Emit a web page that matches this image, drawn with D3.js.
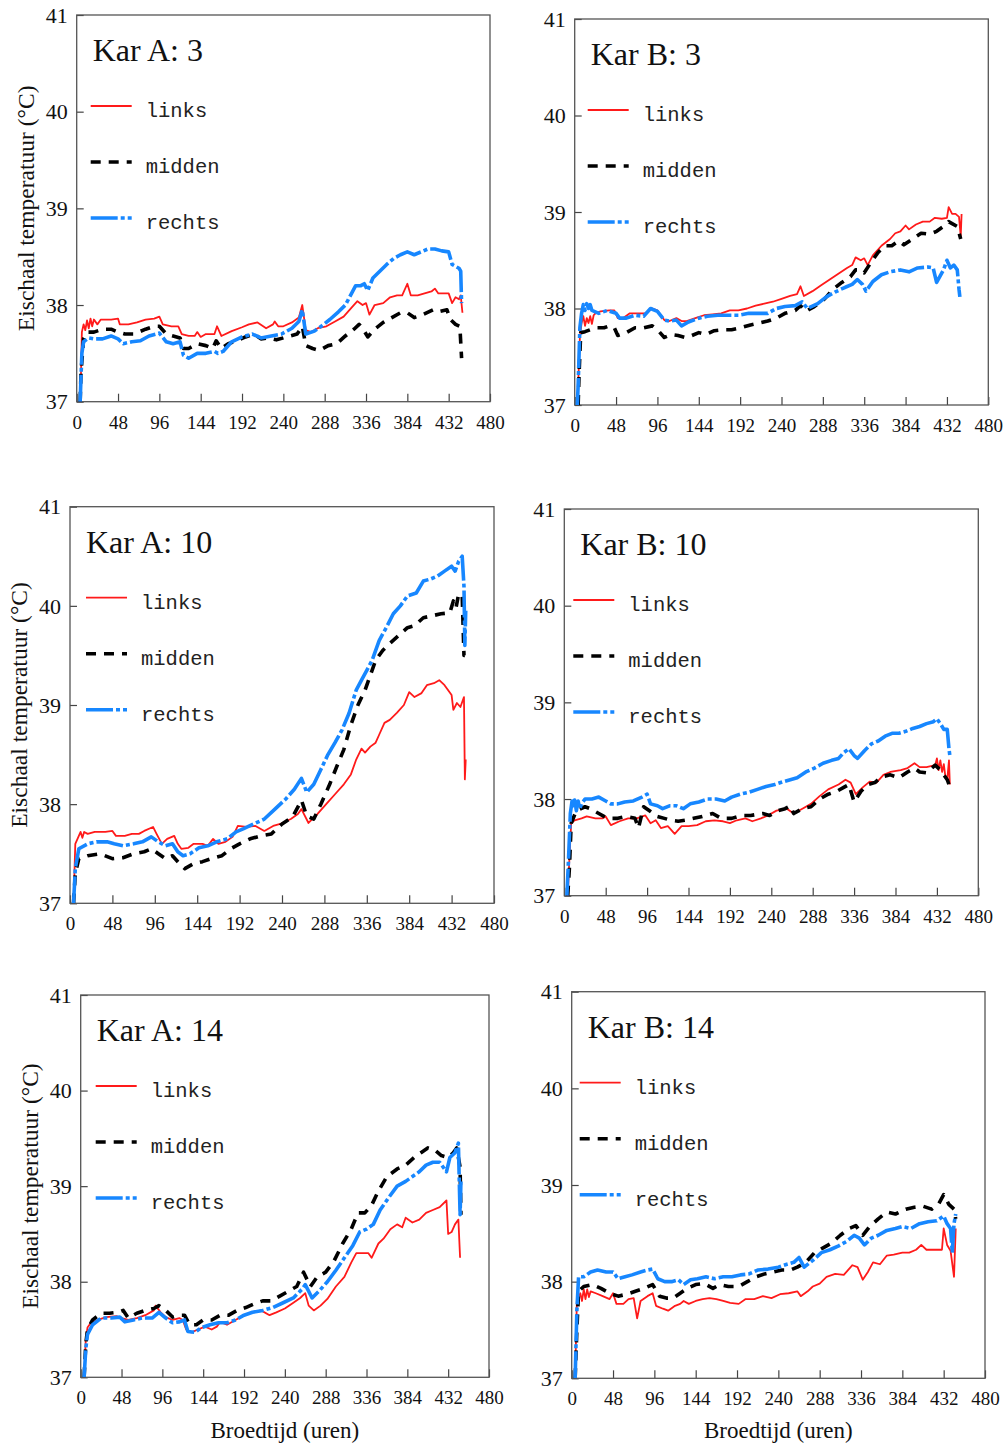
<!DOCTYPE html>
<html>
<head>
<meta charset="utf-8">
<script src="https://cdn.jsdelivr.net/npm/d3@7"></script>
<style>
  body { margin: 0; background: #fff; }
  svg { display: block; }
</style>
</head>
<body>
<svg id="chart" width="1007" height="1446"></svg>
<script>
// x ticks (hours) and y ticks (°C)
const xTicks = [0, 48, 96, 144, 192, 240, 288, 336, 384, 432, 480];
const yTicks = [37, 38, 39, 40, 41];
const seriesNames = ["links", "midden", "rechts"];

// ---- Kar A: 3 ----
const linksA3 = [[4,37.0],[5,37.3],[6,37.72],[8,37.8],[10,37.74],[12,37.84],[14,37.76],[16,37.86],[18,37.78],[20,37.85],[24,37.8],[28,37.85],[40,37.85],[48,37.86],[50,37.8],[60,37.8],[70,37.82],[80,37.85],[90,37.86],[96,37.88],[100,37.8],[110,37.78],[118,37.78],[122,37.7],[130,37.68],[137,37.68],[140,37.72],[144,37.67],[150,37.7],[160,37.7],[163,37.78],[168,37.68],[180,37.73],[192,37.77],[200,37.8],[210,37.82],[220,37.76],[228,37.8],[230,37.83],[234,37.78],[240,37.78],[250,37.82],[258,37.87],[262,38.0],[266,37.74],[272,37.72],[280,37.76],[290,37.78],[300,37.83],[310,37.88],[320,37.98],[326,38.04],[332,38.0],[336,38.02],[340,37.9],[346,38.0],[356,38.02],[364,38.08],[372,38.1],[378,38.1],[384,38.22],[388,38.1],[396,38.1],[404,38.12],[412,38.14],[416,38.17],[420,38.12],[432,38.12],[436,38.02],[440,38.08],[444,38.06],[446,38.1],[448,37.92]];
const middenA3 = [[4,37.0],[5,37.3],[8,37.65],[12,37.72],[20,37.72],[30,37.75],[40,37.75],[48,37.72],[56,37.7],[66,37.7],[72,37.72],[80,37.75],[90,37.78],[96,37.78],[104,37.7],[112,37.68],[120,37.66],[124,37.55],[130,37.55],[140,37.6],[150,37.58],[158,37.55],[162,37.63],[168,37.55],[176,37.6],[186,37.63],[196,37.67],[206,37.7],[214,37.65],[222,37.66],[232,37.64],[244,37.67],[256,37.7],[262,37.78],[266,37.58],[274,37.55],[282,37.53],[292,37.58],[302,37.6],[312,37.68],[322,37.75],[328,37.8],[332,37.76],[338,37.67],[346,37.75],[356,37.82],[366,37.87],[376,37.92],[384,37.92],[392,37.87],[402,37.9],[414,37.95],[420,37.93],[430,37.95],[434,37.85],[440,37.8],[445,37.78],[447,37.45]];
const rechtsA3 = [[4,37.0],[6,37.5],[8,37.62],[14,37.66],[20,37.65],[30,37.65],[40,37.68],[48,37.65],[54,37.6],[64,37.62],[74,37.63],[84,37.68],[96,37.71],[104,37.62],[112,37.6],[120,37.62],[124,37.48],[130,37.45],[140,37.5],[150,37.5],[160,37.52],[164,37.5],[170,37.52],[180,37.62],[192,37.67],[204,37.7],[214,37.66],[226,37.68],[238,37.7],[250,37.76],[258,37.83],[262,37.95],[266,37.7],[276,37.73],[284,37.78],[294,37.85],[304,37.93],[312,38.0],[318,38.1],[324,38.2],[330,38.2],[334,38.22],[338,38.15],[344,38.28],[352,38.35],[360,38.42],[368,38.48],[376,38.52],[384,38.55],[392,38.52],[400,38.55],[408,38.58],[416,38.58],[424,38.56],[432,38.55],[436,38.42],[440,38.4],[444,38.38],[446,38.35],[447,38.02]];

// ---- Kar B: 3 ----
const linksB3 = [[4,37.2],[6,37.7],[8,37.85],[10,37.92],[12,37.82],[14,37.9],[16,37.85],[18,37.92],[20,37.84],[22,37.93],[24,37.95],[30,37.97],[40,37.98],[46,37.98],[50,37.9],[56,37.9],[64,37.95],[74,37.95],[82,37.95],[90,38.0],[96,37.98],[104,37.88],[110,37.87],[118,37.9],[124,37.87],[130,37.87],[140,37.9],[150,37.93],[160,37.94],[170,37.95],[180,37.98],[190,37.98],[200,38.0],[210,38.03],[220,38.05],[230,38.07],[240,38.1],[250,38.13],[258,38.15],[262,38.23],[266,38.13],[276,38.18],[286,38.24],[296,38.3],[306,38.36],[316,38.42],[322,38.45],[326,38.53],[332,38.5],[336,38.52],[340,38.45],[346,38.55],[356,38.65],[366,38.72],[372,38.78],[378,38.8],[384,38.86],[388,38.82],[396,38.87],[404,38.9],[412,38.9],[418,38.94],[426,38.93],[432,38.94],[434,39.05],[438,38.98],[442,38.98],[446,38.95],[448,38.75],[449,38.98]];
const middenB3 = [[4,37.0],[5,37.3],[7,37.75],[12,37.76],[24,37.8],[34,37.8],[40,37.82],[46,37.8],[50,37.72],[60,37.75],[70,37.8],[80,37.8],[90,37.82],[98,37.76],[104,37.7],[112,37.73],[120,37.72],[128,37.7],[136,37.72],[144,37.75],[152,37.73],[162,37.77],[172,37.78],[182,37.78],[192,37.8],[204,37.83],[214,37.85],[224,37.87],[234,37.9],[244,37.95],[256,37.98],[262,38.03],[268,37.97],[278,38.02],[290,38.1],[300,38.2],[310,38.27],[320,38.33],[326,38.4],[332,38.4],[336,38.37],[344,38.48],[352,38.58],[360,38.65],[368,38.65],[376,38.7],[382,38.66],[392,38.72],[402,38.78],[412,38.77],[420,38.8],[428,38.85],[434,38.9],[438,38.88],[444,38.85],[448,38.72]];
const rechtsB3 = [[3,37.0],[4,37.2],[6,37.8],[8,37.95],[10,38.04],[12,37.98],[14,38.05],[16,38.0],[18,38.04],[20,37.98],[28,37.95],[38,37.98],[48,37.95],[52,37.9],[60,37.9],[70,37.93],[80,37.92],[88,38.0],[96,37.97],[104,37.88],[110,37.87],[118,37.88],[124,37.82],[132,37.86],[144,37.9],[154,37.92],[166,37.93],[178,37.93],[190,37.93],[202,37.95],[214,37.95],[224,37.95],[234,38.0],[244,38.02],[256,38.03],[264,38.07],[270,38.0],[282,38.05],[292,38.12],[302,38.17],[314,38.22],[322,38.25],[328,38.3],[334,38.25],[338,38.18],[346,38.28],[356,38.35],[366,38.38],[378,38.4],[388,38.38],[398,38.42],[410,38.43],[416,38.42],[420,38.27],[428,38.4],[432,38.5],[436,38.42],[440,38.45],[444,38.4],[446,38.2],[447,38.12]];

// ---- Kar A: 10 ----
const linksA10 = [[4,37.0],[5,37.3],[6,37.6],[10,37.68],[12,37.72],[14,37.66],[16,37.72],[20,37.7],[28,37.72],[40,37.72],[48,37.73],[52,37.68],[62,37.68],[70,37.7],[78,37.7],[84,37.73],[94,37.77],[98,37.7],[104,37.6],[110,37.65],[118,37.68],[122,37.6],[126,37.55],[134,37.56],[140,37.6],[150,37.6],[156,37.58],[162,37.65],[168,37.6],[176,37.62],[184,37.67],[190,37.78],[200,37.77],[210,37.78],[220,37.73],[230,37.78],[238,37.8],[250,37.85],[258,37.9],[262,37.95],[270,37.81],[280,37.9],[290,38.0],[300,38.1],[310,38.2],[318,38.3],[324,38.45],[330,38.56],[334,38.52],[340,38.58],[346,38.62],[350,38.7],[356,38.82],[362,38.85],[370,38.92],[378,39.0],[384,39.13],[390,39.08],[398,39.12],[404,39.2],[412,39.22],[418,39.25],[424,39.2],[432,39.1],[434,38.95],[438,39.02],[442,38.98],[446,39.08],[447,38.25],[448,38.45]];
const middenA10 = [[4,37.0],[6,37.3],[10,37.45],[20,37.48],[34,37.5],[48,37.45],[60,37.46],[72,37.5],[84,37.52],[92,37.55],[100,37.5],[108,37.45],[116,37.48],[124,37.4],[130,37.35],[140,37.4],[150,37.42],[160,37.45],[172,37.48],[182,37.55],[192,37.6],[204,37.65],[216,37.68],[228,37.7],[240,37.8],[252,37.87],[262,38.04],[268,37.88],[276,37.85],[284,38.0],[294,38.2],[302,38.38],[310,38.55],[318,38.8],[326,39.0],[334,39.15],[340,39.3],[346,39.45],[354,39.55],[362,39.62],[372,39.7],[382,39.78],[390,39.8],[400,39.88],[410,39.9],[420,39.92],[430,39.93],[434,40.05],[437,39.98],[440,40.12],[444,40.1],[446,39.5],[447,39.5]];
const rechtsA10 = [[4,37.0],[6,37.35],[10,37.55],[20,37.6],[30,37.62],[42,37.62],[50,37.6],[60,37.58],[72,37.6],[82,37.62],[92,37.67],[100,37.62],[108,37.58],[116,37.6],[122,37.52],[128,37.48],[136,37.5],[146,37.56],[156,37.58],[166,37.62],[178,37.65],[188,37.72],[196,37.75],[208,37.8],[220,37.85],[232,37.95],[244,38.05],[254,38.15],[262,38.26],[268,38.12],[276,38.2],[284,38.35],[292,38.5],[300,38.62],[308,38.75],[316,38.92],[324,39.15],[330,39.25],[336,39.35],[342,39.45],[350,39.65],[358,39.78],[366,39.92],[374,40.0],[382,40.1],[392,40.13],[400,40.25],[408,40.27],[416,40.3],[424,40.35],[432,40.4],[436,40.35],[440,40.45],[444,40.5],[446,40.2],[447,39.6],[448,39.95]];

// ---- Kar B: 10 ----
const linksB10 = [[4,37.0],[6,37.4],[8,37.75],[12,37.78],[20,37.8],[26,37.82],[36,37.8],[44,37.8],[48,37.82],[54,37.73],[64,37.77],[74,37.8],[84,37.8],[94,37.83],[100,37.75],[106,37.78],[112,37.7],[120,37.72],[128,37.64],[136,37.72],[144,37.72],[154,37.73],[164,37.77],[174,37.78],[184,37.77],[192,37.75],[200,37.78],[210,37.8],[218,37.77],[228,37.8],[236,37.83],[246,37.88],[258,37.9],[266,37.85],[276,37.9],[286,37.95],[296,38.03],[306,38.1],[318,38.15],[326,38.2],[332,38.17],[338,38.05],[346,38.12],[354,38.18],[362,38.17],[370,38.25],[378,38.28],[390,38.3],[398,38.32],[406,38.37],[412,38.33],[420,38.33],[430,38.35],[432,38.42],[434,38.3],[436,38.4],[438,38.28],[440,38.36],[442,38.22],[444,38.2],[446,38.4],[447,38.15]];
const middenB10 = [[4,37.0],[6,37.3],[8,37.75],[14,37.88],[24,37.92],[30,37.9],[40,37.85],[50,37.8],[62,37.8],[72,37.82],[82,37.8],[86,37.7],[92,37.92],[100,37.87],[108,37.82],[116,37.8],[124,37.78],[132,37.77],[140,37.78],[150,37.8],[160,37.82],[172,37.85],[182,37.8],[194,37.8],[206,37.83],[216,37.83],[230,37.85],[238,37.83],[248,37.88],[256,37.9],[262,37.93],[266,37.85],[276,37.9],[286,37.92],[296,38.0],[306,38.05],[316,38.08],[324,38.12],[330,38.15],[336,37.97],[344,38.08],[352,38.15],[360,38.17],[368,38.23],[378,38.25],[388,38.22],[398,38.28],[406,38.32],[412,38.28],[420,38.27],[430,38.35],[436,38.3],[440,38.25],[444,38.2],[446,38.15]];
const rechtsB10 = [[3,37.0],[5,37.4],[7,37.85],[9,37.98],[10,37.9],[12,37.99],[14,37.88],[16,37.98],[18,37.9],[20,37.95],[24,38.0],[32,38.0],[40,38.02],[48,37.98],[54,37.95],[62,37.95],[70,37.97],[80,37.98],[90,38.02],[96,38.05],[100,37.95],[108,37.93],[114,37.9],[122,37.93],[130,37.93],[138,37.9],[146,37.95],[156,37.97],[166,38.0],[176,38.0],[186,37.98],[194,38.02],[204,38.05],[214,38.07],[224,38.1],[234,38.13],[244,38.15],[254,38.18],[262,38.2],[270,38.22],[280,38.28],[290,38.32],[300,38.37],[310,38.4],[318,38.42],[324,38.48],[330,38.52],[336,38.45],[340,38.42],[348,38.5],[356,38.57],[364,38.6],[372,38.65],[380,38.68],[388,38.68],[396,38.7],[404,38.73],[412,38.75],[420,38.78],[428,38.8],[432,38.83],[436,38.78],[440,38.72],[444,38.72],[446,38.52],[447,38.45]];

// ---- Kar A: 14 ----
const linksA14 = [[4,37.0],[6,37.4],[8,37.52],[12,37.57],[20,37.6],[30,37.63],[42,37.64],[48,37.62],[56,37.6],[66,37.62],[76,37.65],[86,37.7],[88,37.75],[94,37.68],[100,37.63],[108,37.6],[116,37.62],[120,37.6],[124,37.5],[130,37.47],[138,37.5],[146,37.53],[154,37.5],[160,37.53],[164,37.58],[172,37.55],[182,37.6],[192,37.65],[202,37.68],[212,37.7],[222,37.65],[230,37.68],[240,37.72],[250,37.78],[258,37.83],[264,37.88],[268,37.75],[274,37.7],[282,37.75],[290,37.82],[300,37.95],[310,38.05],[318,38.2],[324,38.3],[332,38.3],[338,38.3],[342,38.25],[350,38.4],[356,38.45],[364,38.55],[372,38.6],[378,38.57],[382,38.67],[390,38.62],[398,38.65],[406,38.72],[414,38.75],[422,38.78],[430,38.85],[432,38.5],[436,38.52],[440,38.6],[444,38.65],[446,38.25]];
const middenA14 = [[4,37.0],[6,37.35],[8,37.5],[14,37.6],[24,37.67],[34,37.67],[44,37.68],[50,37.7],[56,37.62],[66,37.67],[76,37.7],[86,37.72],[92,37.75],[100,37.7],[108,37.63],[116,37.65],[122,37.65],[128,37.55],[136,37.55],[144,37.6],[154,37.6],[164,37.65],[174,37.65],[184,37.7],[194,37.73],[204,37.77],[214,37.8],[224,37.8],[234,37.85],[244,37.9],[254,37.95],[262,38.1],[270,37.95],[278,38.05],[288,38.1],[298,38.22],[308,38.4],[318,38.55],[326,38.72],[334,38.72],[342,38.8],[350,38.95],[360,39.1],[372,39.18],[382,39.22],[392,39.3],[400,39.35],[408,39.4],[416,39.38],[424,39.32],[432,39.3],[438,39.35],[442,39.4],[446,39.2],[447,38.7]];
const rechtsA14 = [[4,37.0],[6,37.3],[8,37.45],[14,37.55],[24,37.62],[36,37.62],[46,37.63],[52,37.58],[62,37.6],[72,37.62],[84,37.62],[92,37.68],[100,37.62],[108,37.57],[116,37.58],[122,37.6],[126,37.48],[134,37.47],[142,37.52],[152,37.55],[162,37.57],[172,37.57],[182,37.6],[192,37.65],[202,37.68],[214,37.7],[226,37.73],[238,37.78],[250,37.83],[260,37.92],[264,37.97],[272,37.83],[280,37.9],[290,38.0],[300,38.12],[310,38.25],[320,38.38],[328,38.52],[336,38.55],[344,38.6],[352,38.75],[362,38.88],[372,39.0],[382,39.05],[390,39.1],[398,39.15],[406,39.22],[414,39.25],[422,39.25],[430,39.15],[434,39.3],[440,39.35],[444,39.45],[446,38.7],[447,39.05]];

// ---- Kar B: 14 ----
const linksB14 = [[4,37.0],[5,37.4],[6,37.8],[10,37.88],[12,37.8],[14,37.92],[16,37.82],[18,37.92],[20,37.84],[22,37.9],[28,37.88],[36,37.85],[44,37.82],[48,37.88],[52,37.77],[60,37.77],[66,37.82],[72,37.83],[76,37.62],[80,37.8],[88,37.85],[94,37.88],[98,37.75],[106,37.72],[112,37.7],[120,37.75],[126,37.77],[130,37.8],[136,37.77],[144,37.8],[152,37.82],[160,37.83],[168,37.82],[176,37.8],[184,37.78],[194,37.77],[202,37.82],[212,37.82],[222,37.85],[232,37.83],[242,37.87],[252,37.88],[262,37.9],[266,37.85],[274,37.9],[280,37.95],[288,37.98],[296,38.05],[306,38.08],[316,38.07],[326,38.17],[332,38.15],[338,38.02],[344,38.1],[350,38.2],[358,38.18],[366,38.27],[374,38.28],[384,38.3],[392,38.3],[400,38.33],[406,38.38],[412,38.33],[422,38.33],[430,38.33],[432,38.55],[436,38.38],[440,38.32],[444,38.05],[446,38.55]];
const middenB14 = [[4,37.0],[6,37.5],[8,37.9],[14,37.95],[24,37.97],[34,37.93],[44,37.88],[54,37.85],[64,37.87],[74,37.9],[84,37.93],[94,37.97],[102,37.85],[110,37.83],[118,37.83],[126,37.88],[134,37.93],[144,37.97],[154,37.98],[164,37.93],[172,37.97],[182,37.95],[194,37.95],[204,38.0],[214,38.05],[224,38.08],[234,38.1],[244,38.12],[254,38.12],[262,38.15],[272,38.2],[282,38.3],[292,38.35],[302,38.4],[312,38.48],[322,38.55],[330,38.58],[338,38.48],[346,38.57],[356,38.65],[366,38.72],[376,38.7],[388,38.75],[398,38.77],[408,38.78],[418,38.75],[426,38.8],[432,38.9],[438,38.8],[444,38.75],[446,38.65]];
const rechtsB14 = [[4,37.0],[6,37.7],[8,38.05],[14,38.05],[22,38.1],[30,38.12],[40,38.1],[48,38.1],[54,38.03],[62,38.05],[70,38.07],[80,38.1],[88,38.12],[94,38.13],[100,38.03],[108,38.0],[116,38.0],[124,38.02],[130,37.97],[138,38.02],[146,38.03],[156,38.05],[166,38.03],[176,38.05],[186,38.05],[196,38.07],[206,38.08],[216,38.12],[228,38.13],[240,38.15],[250,38.18],[258,38.2],[264,38.25],[270,38.15],[280,38.22],[290,38.3],[300,38.33],[310,38.37],[320,38.42],[328,38.48],[334,38.45],[340,38.38],[348,38.45],[356,38.48],[366,38.53],[376,38.55],[384,38.57],[394,38.55],[404,38.6],[414,38.62],[424,38.63],[432,38.68],[436,38.6],[440,38.55],[442,38.3],[444,38.6],[446,38.7]];

// panel layout: [left, top, right, bottom] of each plot frame
const panels = [
  { title: "Kar A: 3",  box: [76.7, 15, 490, 401.7],    legX: 14, yLabel: true,  xLabel: false, data: [linksA3, middenA3, rechtsA3] },
  { title: "Kar B: 3",  box: [574.7, 19, 988.3, 405],   legX: 13, yLabel: false, xLabel: false, data: [linksB3, middenB3, rechtsB3] },
  { title: "Kar A: 10", box: [70, 506.7, 494, 903.3],   legX: 16, yLabel: true,  xLabel: false, data: [linksA10, middenA10, rechtsA10] },
  { title: "Kar B: 10", box: [564.3, 509, 978.3, 895.7], legX: 9, yLabel: false, xLabel: false, data: [linksB10, middenB10, rechtsB10] },
  { title: "Kar A: 14", box: [80.7, 995, 489, 1377.3],  legX: 15, yLabel: true,  xLabel: true,  data: [linksA14, middenA14, rechtsA14] },
  { title: "Kar B: 14", box: [571.7, 991.7, 985, 1378.3], legX: 8, yLabel: false, xLabel: true,  data: [linksB14, middenB14, rechtsB14] },
];

const styles = [
  { color: "#ff1a1a", width: 1.8, dash: null },
  { color: "#000000", width: 3.6, dash: "10,8" },
  { color: "#1787ff", width: 3.6, dash: "27,3,4,3" },
];

const serif = '"Liberation Serif", "Times New Roman", serif';
const mono = '"Liberation Mono", "Courier New", monospace';
const svg = d3.select("#chart");

panels.forEach((p, pi) => {
  const [x0, y0, x1, y1] = p.box;
  const x = d3.scaleLinear().domain([0, 480]).range([x0, x1]);
  const y = d3.scaleLinear().domain([37, 41]).range([y1, y0]);
  const g = svg.append("g");

  g.append("clipPath").attr("id", `clip${pi}`)
    .append("rect").attr("x", x0).attr("y", y0).attr("width", x1 - x0).attr("height", y1 - y0);

  // x axis with inward ticks
  const xAxis = g.append("g")
    .attr("transform", `translate(0,${y1})`)
    .call(d3.axisBottom(x).tickValues(xTicks).tickFormat(d3.format("d"))
      .tickSizeInner(-8).tickSizeOuter(0).tickPadding(12))
    .attr("font-family", serif);
  xAxis.select(".domain").remove();
  xAxis.selectAll("line").attr("stroke", "#444").attr("stroke-width", 1.2);
  xAxis.selectAll("text").attr("font-family", serif).attr("font-size", 19).attr("fill", "#111").attr("dy", "0.78em");

  // y axis with inward ticks
  const yAxis = g.append("g")
    .attr("transform", `translate(${x0},0)`)
    .call(d3.axisLeft(y).tickValues(yTicks).tickFormat(d3.format("d"))
      .tickSizeInner(-7).tickSizeOuter(0).tickPadding(9))
    .attr("font-family", serif);
  yAxis.select(".domain").remove();
  yAxis.selectAll("line").attr("stroke", "#444").attr("stroke-width", 1.2);
  yAxis.selectAll("text").attr("font-family", serif).attr("font-size", 22).attr("fill", "#111").attr("dy", "0.33em");

  // frame
  g.append("rect")
    .attr("x", x0).attr("y", y0).attr("width", x1 - x0).attr("height", y1 - y0)
    .attr("fill", "none").attr("stroke", "#555").attr("stroke-width", 1.3);

  // series lines
  const line = d3.line().x(d => x(d[0])).y(d => y(d[1]));
  p.data.forEach((s, si) => {
    const st = styles[si];
    g.append("path")
      .attr("clip-path", `url(#clip${pi})`)
      .attr("d", line(s))
      .attr("fill", "none")
      .attr("stroke", st.color)
      .attr("stroke-width", st.width)
      .attr("stroke-linejoin", "round")
      .attr("stroke-dasharray", st.dash);
  });

  // title
  g.append("text")
    .attr("x", x0 + 16).attr("y", y0 + 46)
    .attr("font-family", serif).attr("font-size", 32).attr("fill", "#111")
    .text(p.title);

  // legend
  seriesNames.forEach((name, si) => {
    const st = styles[si];
    const ly = y0 + 91 + si * 56;
    const lx = x0 + p.legX;
    g.append("line")
      .attr("x1", lx).attr("x2", lx + 41).attr("y1", ly).attr("y2", ly)
      .attr("stroke", st.color).attr("stroke-width", st.width)
      .attr("stroke-dasharray", st.dash);
    g.append("text")
      .attr("x", lx + 55).attr("y", ly + 11)
      .attr("font-family", mono).attr("font-size", 20.5).attr("fill", "#222")
      .text(name);
  });

  if (p.yLabel) {
    const cy = (y0 + y1) / 2;
    g.append("text")
      .attr("transform", `translate(${x0 - 51},${cy}) rotate(-90)`)
      .attr("text-anchor", "middle").attr("dy", "0.35em")
      .attr("font-family", serif).attr("font-size", 23.5).attr("fill", "#111")
      .text("Eischaal temperatuur (°C)");
  }
  if (p.xLabel) {
    g.append("text")
      .attr("x", (x0 + x1) / 2).attr("y", 1438)
      .attr("text-anchor", "middle")
      .attr("font-family", serif).attr("font-size", 23).attr("fill", "#111")
      .text("Broedtijd (uren)");
  }
});
</script>
</body>
</html>
